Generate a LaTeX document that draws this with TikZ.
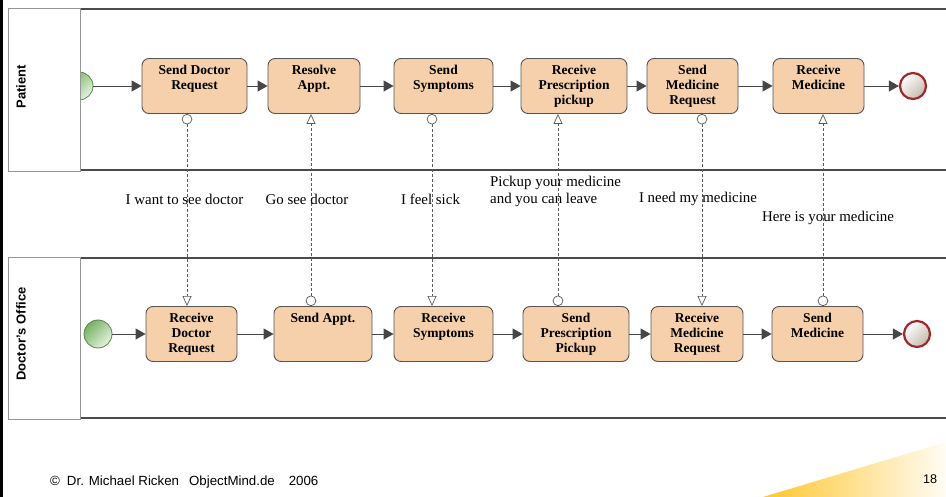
\documentclass[tikz,border=0pt]{standalone}
\usepackage{fontspec}
\setmainfont{Liberation Serif}
\setsansfont{Liberation Sans}
\usetikzlibrary{arrows.meta,calc}
\definecolor{peach}{RGB}{245,208,170}
\definecolor{boxc}{RGB}{85,85,85}
\definecolor{flowc}{RGB}{70,70,70}
\definecolor{msgc}{RGB}{90,90,90}
\definecolor{lanec}{RGB}{75,75,75}
\definecolor{lblc}{RGB}{150,150,150}
\definecolor{sgreen}{RGB}{118,178,98}
\definecolor{sgreenl}{RGB}{230,242,225}
\definecolor{ered}{RGB}{160,40,40}
\definecolor{egray}{RGB}{196,186,174}
\definecolor{ygold}{RGB}{255,198,45}
\newcommand\tasklbl[2]{\parbox[c][44pt][t]{#1}{\centering\strut #2}}
\begin{document}
\begin{tikzpicture}[x=1pt,y=-1pt,
  task/.style={draw=boxc, fill=peach, rounded corners=7pt, line width=0.9pt,
    inner sep=0pt, minimum height=55pt, align=center,
    font=\bfseries\fontsize{13.5}{15}\selectfont},
  flow/.style={draw=flowc, line width=0.9pt, -{Triangle[length=10pt,width=11pt]}},
  msg/.style={draw=msgc, line width=0.7pt, dash pattern=on 3pt off 2pt,
    {Circle[open,length=10.5pt,width=10.5pt,fill=white]}-{Triangle[open,length=10pt,width=9pt,fill=white]}},
  startev/.style={circle, minimum size=28pt, inner sep=0pt, draw=sgreen!75!black,
    line width=0.8pt, top color=sgreen, bottom color=sgreenl, shading angle=45},
  endev/.style={circle, minimum size=26pt, inner sep=0pt, draw=ered,
    line width=2.2pt, top color=white, bottom color=egray, shading angle=45},
  lane/.style={draw=lanec, line width=2pt},
  lanebox/.style={draw=lblc, line width=0.6pt, fill=white},
  lanelbl/.style={rotate=90, font=\sffamily\bfseries\fontsize{13}{15}\selectfont},
  msglbl/.style={font=\fontsize{14.9}{17}\selectfont, inner sep=0pt, align=left}
]
\useasboundingbox (0,0) rectangle (946,497);
\fill[white] (0,0) rectangle (946,497);
% footer gradient
\shade[left color=ygold, middle color=ygold!45, right color=ygold!5] (763,497) -- (946,442) -- (946,497) -- cycle;
% left bar
\fill[black] (0,0) rectangle (3,497);

% pool lines
\draw[lane] (80,9) -- (946,9);
\draw[lane] (80,170) -- (946,170);
\draw[lane] (80,258) -- (946,258);
\draw[lane] (80,418) -- (946,418);

% patient start (half hidden)
\node[startev] (PS) at (79,86) {};
\draw[lanebox] (8,8) rectangle (80,171);
\draw[lanebox] (8,257) rectangle (80,419);
\node[lanelbl] (LP) at (21,87) {Patient};
\node[lanelbl] (LD) at (21,334) {Doctor's Office};

% patient tasks
\node[task, minimum width=105pt] (A1) at (194.5,86) {\tasklbl{99pt}{Send Doctor\\Request}};
\node[task, minimum width=92pt] (A2) at (314,86) {\tasklbl{86pt}{Resolve\\Appt.}};
\node[task, minimum width=99pt] (A3) at (443.5,86) {\tasklbl{93pt}{Send\\Symptoms}};
\node[task, minimum width=106pt] (A4) at (574,86) {\tasklbl{100pt}{Receive\\Prescription\\pickup}};
\node[task, minimum width=91pt] (A5) at (692.5,86) {\tasklbl{85pt}{Send\\Medicine\\Request}};
\node[task, minimum width=91pt] (A6) at (818.5,86) {\tasklbl{85pt}{Receive\\Medicine}};
\node[endev] (PE) at (913,86) {};

% doctor tasks
\node[startev] (DS) at (98,334) {};
\node[task, minimum width=91pt] (B1) at (191.5,334) {\tasklbl{85pt}{Receive\\Doctor\\Request}};
\node[task, minimum width=98pt] (B2) at (323,334) {\tasklbl{92pt}{Send Appt.}};
\node[task, minimum width=99pt] (B3) at (443.5,334) {\tasklbl{93pt}{Receive\\Symptoms}};
\node[task, minimum width=106pt] (B4) at (576,334) {\tasklbl{100pt}{Send\\Prescription\\Pickup}};
\node[task, minimum width=92pt] (B5) at (697,334) {\tasklbl{86pt}{Receive\\Medicine\\Request}};
\node[task, minimum width=91pt] (B6) at (817.5,334) {\tasklbl{85pt}{Send\\Medicine}};
\node[endev] (DE) at (917,334) {};

% sequence flows
\draw[flow] (PS) -- (A1);
\draw[flow] (A1) -- (A2);
\draw[flow] (A2) -- (A3);
\draw[flow] (A3) -- (A4);
\draw[flow] (A4) -- (A5);
\draw[flow] (A5) -- (A6);
\draw[flow] (A6) -- (PE);
\draw[flow] (DS) -- (B1);
\draw[flow] (B1) -- (B2);
\draw[flow] (B2) -- (B3);
\draw[flow] (B3) -- (B4);
\draw[flow] (B4) -- (B5);
\draw[flow] (B5) -- (B6);
\draw[flow] (B6) -- (DE);

% message flows
\coordinate (m1) at (187,0);
\coordinate (m2) at (311,0);
\coordinate (m3) at (432,0);
\coordinate (m4) at (558,0);
\coordinate (m5) at (702,0);
\coordinate (m6) at (823,0);
\draw[msg] (A1.south -| m1) -- (B1.north -| m1);
\draw[msg] (B2.north -| m2) -- (A2.south -| m2);
\draw[msg] (A3.south -| m3) -- (B3.north -| m3);
\draw[msg] (B4.north -| m4) -- (A4.south -| m4);
\draw[msg] (A5.south -| m5) -- (B5.north -| m5);
\draw[msg] (B6.north -| m6) -- (A6.south -| m6);

% message labels
\node[msglbl] (t1) at (184.5,199) {I want to see doctor};
\node[msglbl] (t2) at (307,199) {Go see doctor};
\node[msglbl, anchor=west] (t3) at (401,199) {I feel sick};
\node[msglbl, anchor=west] (t4) at (490,191) {Pickup your medicine\\and you can leave};
\node[msglbl] (t5) at (698,199) {I need my medicine};
\node[msglbl] (t6) at (828,218) {Here is your medicine};

% footer
\node[anchor=base west, inner sep=0pt, font=\sffamily\fontsize{13.3}{15}\selectfont] (foot) at (50,485)
  {©\hspace{7pt}Dr. Michael Ricken\hspace{10pt}ObjectMind.de\hspace{14pt}2006};
\node[inner sep=0pt, font=\sffamily\fontsize{12.6}{14}\selectfont] (pg) at (930,479) {18};
\end{tikzpicture}
\end{document}
